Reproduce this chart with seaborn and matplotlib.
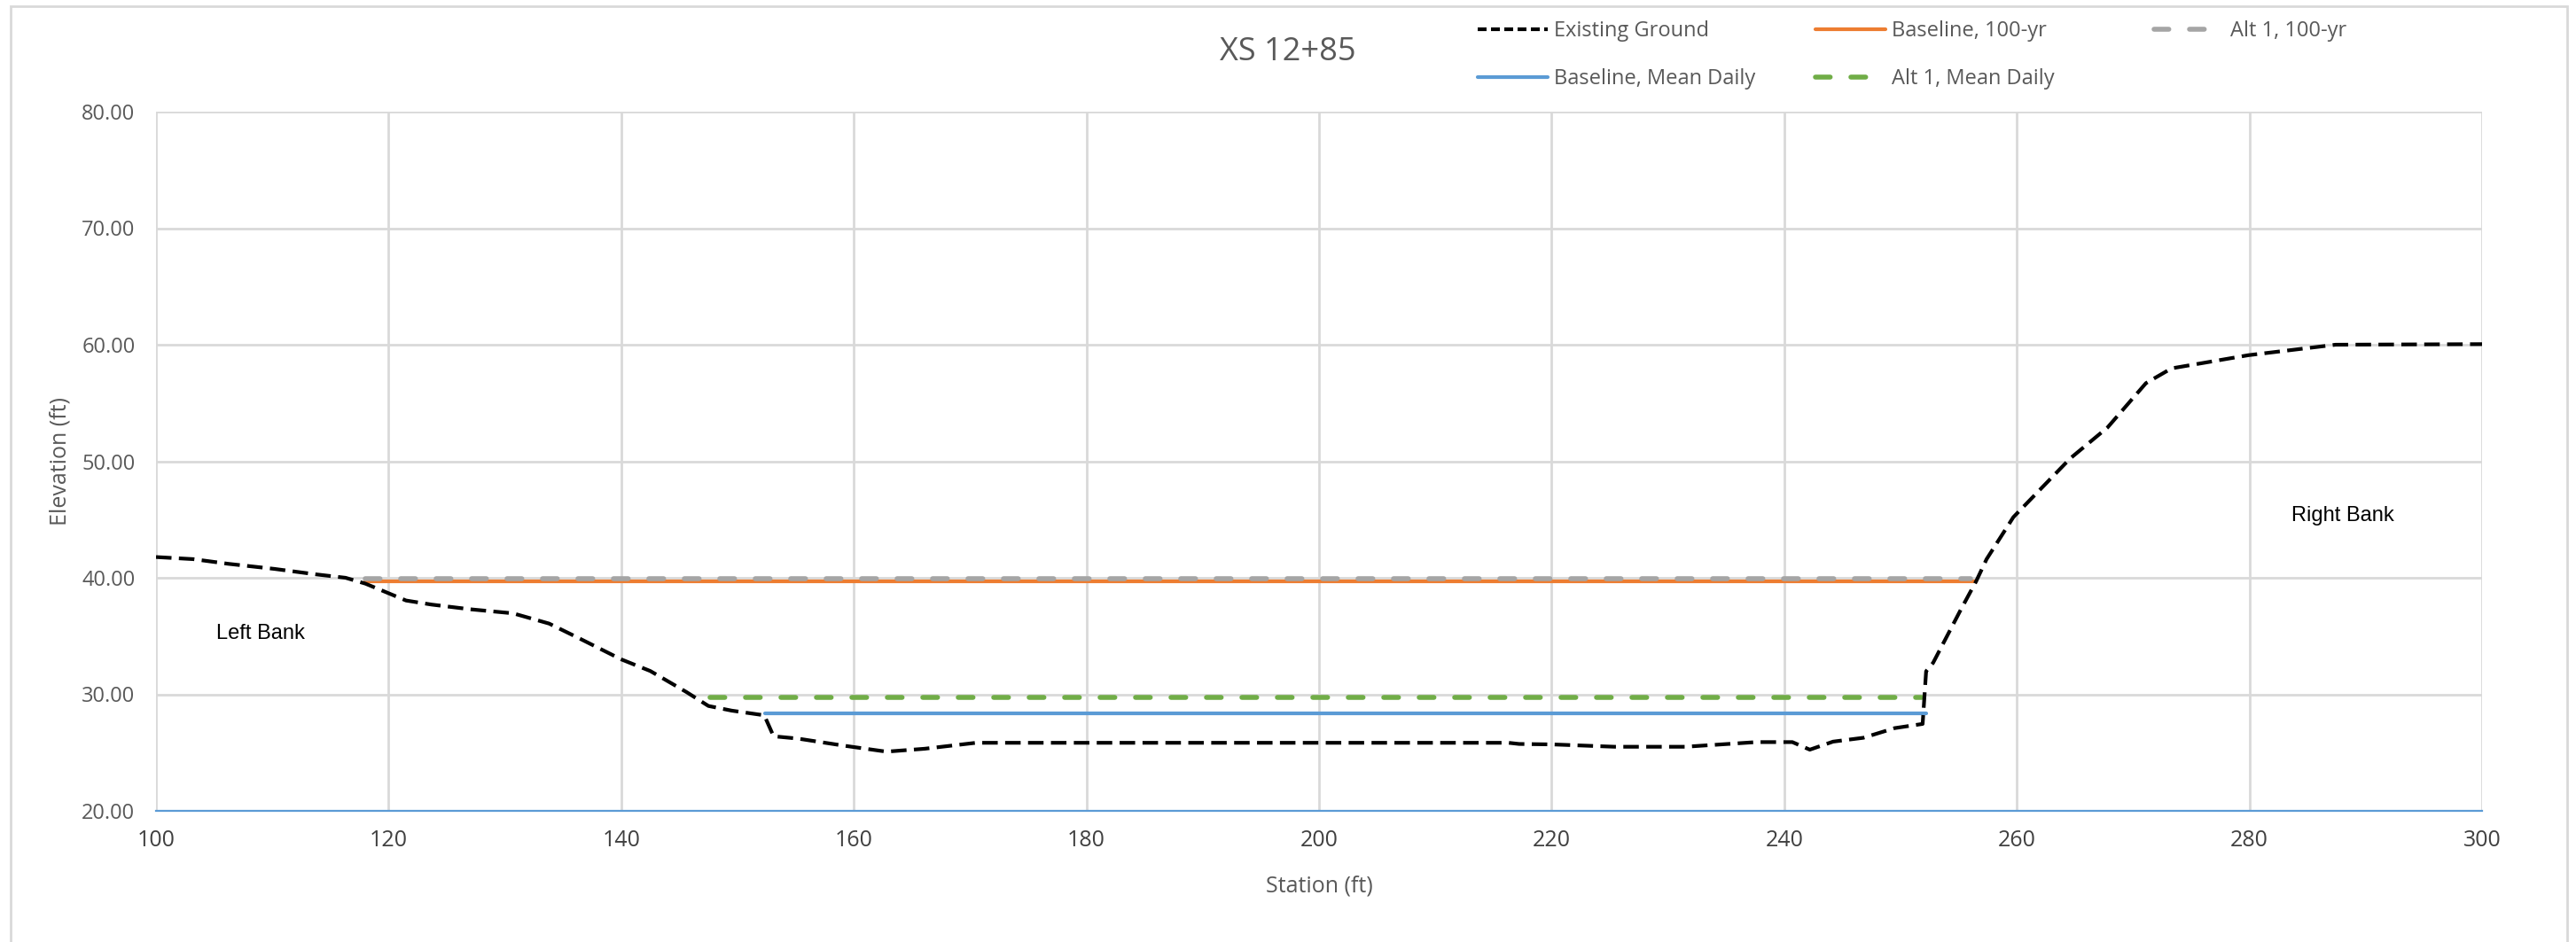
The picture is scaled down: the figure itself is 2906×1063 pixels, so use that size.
import matplotlib
matplotlib.use("Agg")
import matplotlib.pyplot as plt
from matplotlib.lines import Line2D
from matplotlib.patches import Rectangle
import seaborn as sns
import pandas as pd

# ---------------- data ----------------
station = [100, 103.2, 106.2, 110.2, 113.7, 116.3, 118.0, 121.5, 123.7, 127.0,
           130.7, 133.8, 136.4, 140.0, 142.5, 145.6, 147.5, 149.5, 152.3, 153.1,
           155.2, 159.1, 162.8, 166.1, 170.5, 216.3, 217.2, 220.1, 225.4, 231.5,
           237.6, 240.7, 242.2, 244.2, 246.8, 249.5, 251.9, 252.2, 252.8, 255.2,
           256.5, 257.4, 259.7, 264.6, 267.8, 271.1, 273.3, 279.9, 287.4, 300]
elevation = [41.78, 41.6, 41.2, 40.76, 40.3, 40.0, 39.5, 38.05, 37.7, 37.3,
             36.95, 36.07, 34.8, 33.0, 32.0, 30.2, 29.0, 28.6, 28.2, 26.4,
             26.2, 25.6, 25.08, 25.33, 25.84, 25.84, 25.74, 25.7, 25.5, 25.5,
             25.9, 25.9, 25.25, 25.94, 26.27, 27.1, 27.46, 31.98, 32.7, 37.3,
             39.7, 41.6, 45.2, 50.25, 52.9, 56.7, 57.97, 59.1, 60.0, 60.05]

series_names = ["Baseline, 100-yr", "Baseline, Mean Daily", "Alt 1, 100-yr", "Alt 1, Mean Daily"]
wse_levels = [39.67, 28.33, 39.92, 29.77]
wse_start = [118.0, 152.4, 118.0, 147.6]
wse_end = [256.5, 252.2, 256.0, 251.8]

x_ticks = [100, 120, 140, 160, 180, 200, 220, 240, 260, 280, 300]
y_ticks = [20, 30, 40, 50, 60, 70, 80]

title = "XS 12+85"
x_label = "Station (ft)"
y_label = "Elevation (ft)"

# ---------------- style ----------------
sns.set_theme(style="white")
plt.rcParams["font.family"] = ["Open Sans", "DejaVu Sans"]
plt.rcParams["lines.scale_dashes"] = True

W, H = 2906, 1063
fig = plt.figure(figsize=(W / 100, H / 100), dpi=100)
fig.patch.set_facecolor("white")
ax = fig.add_axes([176 / W, 1 - 915 / H, (2800 - 176) / W, (915 - 126) / H])

grid_c = "#D9D9D9"
text_c = "#595959"
c_orange = "#ED7D31"
c_blue = "#5B9BD5"
c_gray = "#A5A5A5"
c_green = "#70AD47"

styles = {
    "Baseline, 100-yr": dict(color=c_orange, lw=3.0, ls="-", zorder=3),
    "Baseline, Mean Daily": dict(color=c_blue, lw=3.0, ls="-", zorder=3),
    "Alt 1, 100-yr": dict(color=c_gray, lw=4.0, ls=(0, (3.0, 4.2)), zorder=4),
    "Alt 1, Mean Daily": dict(color=c_green, lw=4.0, ls=(0, (3.0, 4.2)), zorder=4),
}

for name, lvl, s0, s1 in zip(series_names, wse_levels, wse_start, wse_end):
    df = pd.DataFrame({"x": [s0, s1], "y": [lvl, lvl]})
    st = styles[name]
    sns.lineplot(data=df, x="x", y="y", ax=ax, color=st["color"], lw=st["lw"],
                 linestyle=st["ls"], sort=False, estimator=None, zorder=st["zorder"],
                 dash_capstyle="round" if st["ls"] != "-" else "butt")

ground = pd.DataFrame({"x": station, "y": elevation})
sns.lineplot(data=ground, x="x", y="y", ax=ax, color="black", lw=3.0,
             linestyle=(0, (4.2, 2.0)), sort=False, estimator=None, zorder=5)

ax.set_xlim(100, 300)
ax.set_ylim(20, 80)
ax.set_xticks(x_ticks)
ax.set_yticks(y_ticks)
ax.set_yticklabels([f"{v:.2f}" for v in y_ticks])
ax.grid(True, color=grid_c, lw=2.0)
ax.set_axisbelow(True)
for sp in ["top", "right", "left"]:
    ax.spines[sp].set_visible(False)
ax.spines["bottom"].set_color(c_blue)
ax.spines["bottom"].set_linewidth(1.6)
ax.spines["bottom"].set_zorder(2)

ax.tick_params(axis="x", length=0, pad=15, labelsize=18, labelcolor="#404040")
ax.tick_params(axis="y", length=0, pad=17, labelsize=17, labelcolor=text_c)

ax.set_xlabel(x_label, fontsize=18, color=text_c)
ax.set_ylabel(y_label, fontsize=18, color=text_c)
ax.xaxis.label.set_va("center")
ax.yaxis.label.set_va("center")
ax.xaxis.set_label_coords(0.5, (915 - 1000) / 789)
ax.yaxis.set_label_coords((68 - 176) / 2624, 0.5)

ax.text(109.0, 35.2, "Left Bank", fontsize=17, color="black", ha="center", va="center",
        family=["Liberation Sans", "DejaVu Sans"])
ax.text(288.0, 45.3, "Right Bank", fontsize=17, color="black", ha="center", va="center",
        family=["Liberation Sans", "DejaVu Sans"])

fig.text(1453 / W, 1 - 59 / H, title, fontsize=26, color=text_c, ha="center", va="center")

# ---------------- legend ----------------
leg_fs = 17
def _st(name):
    return {k: v for k, v in styles[name].items() if k != "zorder"}

leg_entries = [
    ("Existing Ground", Line2D([], [], color="black", lw=3.0, ls=(0, (2.4, 1.2))), 1667, 35),
    ("Baseline, Mean Daily", Line2D([], [], **_st("Baseline, Mean Daily")), 1667, 89),
    ("Baseline, 100-yr", Line2D([], [], **_st("Baseline, 100-yr")), 2048, 35),
    ("Alt 1, Mean Daily", Line2D([], [], dash_capstyle="round", **_st("Alt 1, Mean Daily")), 2048, 89),
    ("Alt 1, 100-yr", Line2D([], [], dash_capstyle="round", **_st("Alt 1, 100-yr")), 2430, 35),
]
for label, handle, px, py in leg_entries:
    fig.legend(handles=[handle], labels=[label], loc="center left",
               bbox_to_anchor=(px / W, 1 - py / H), frameon=False, borderpad=0,
               borderaxespad=0, handlelength=79 / (leg_fs * 100 / 72),
               handletextpad=0.3, fontsize=leg_fs, labelcolor=text_c)

# chart border
fig.patches.append(Rectangle((12 / W, -0.01), (2896 - 12) / W, 1.01 - 7 / H,
                             transform=fig.transFigure, fill=False,
                             edgecolor=grid_c, lw=2.0))

fig.savefig("out.png", dpi=100, facecolor="white")
